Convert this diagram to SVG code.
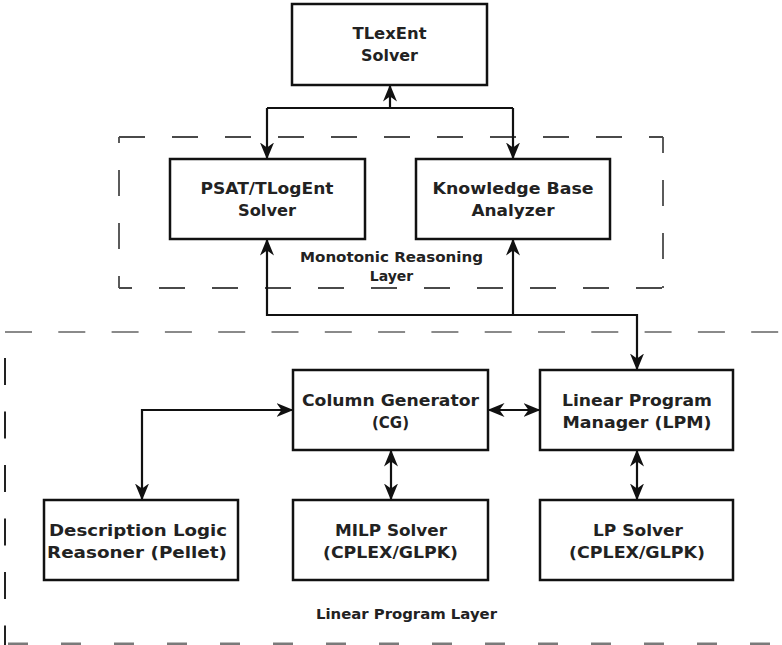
<svg xmlns="http://www.w3.org/2000/svg" width="782" height="645" viewBox="0 0 782 645">
  <style>
    .box { fill: #ffffff; stroke: #111111; stroke-width: 2.5; }
    .lbl { font-family: "DejaVu Sans", "Liberation Sans", sans-serif; font-weight: bold; font-size: 15px; fill: #222222; text-anchor: middle; }
    .cap { font-family: "DejaVu Sans", "Liberation Sans", sans-serif; font-weight: bold; font-size: 14px; fill: #222222; text-anchor: middle; }
    .wire { fill: none; stroke: #111111; stroke-width: 2.2; }
    .layer { fill: none; stroke: #4a4a4a; stroke-width: 1.8; stroke-dasharray: 26 27; }
    .sep { fill: none; stroke: #8a8a8a; stroke-width: 2; stroke-dasharray: 27 26.3; }
  </style>
  <defs>
    <marker id="arrow" viewBox="0 0 17 14" markerWidth="17" markerHeight="14" refX="16.5" refY="7" orient="auto-start-reverse" markerUnits="userSpaceOnUse">
      <path d="M0,0 L17,7 L0,14 L5,7 z" fill="#111111"/>
    </marker>
  </defs>
  <rect width="782" height="645" fill="#ffffff"/>

  <!-- layer outlines -->
  <g id="monotonic-layer">
    <line class="layer" x1="119" y1="137" x2="663" y2="137"/>
    <line class="layer" x1="663" y1="137" x2="663" y2="288" stroke-dashoffset="10"/>
    <line class="layer" x1="119" y1="137" x2="119" y2="288" stroke-dashoffset="20"/>
    <line class="layer" x1="119" y1="288" x2="663" y2="288" stroke-dashoffset="13"/>
    <text class="cap" x="391.5" y="262" textLength="183" lengthAdjust="spacingAndGlyphs">Monotonic Reasoning</text>
    <text class="cap" x="391.5" y="281">Layer</text>
  </g>
  <g id="linear-program-layer">
    <line class="sep" x1="5" y1="332" x2="782" y2="332"/>
    <line x1="5" y1="332" x2="5" y2="645" stroke="#222222" stroke-width="2" stroke-dasharray="27 26.5" stroke-dashoffset="27.5"/>
    <line x1="8" y1="644" x2="782" y2="644" stroke="#7a7a7a" stroke-width="3" stroke-dasharray="20 33"/>
    <text class="cap" x="406.5" y="619" textLength="181" lengthAdjust="spacingAndGlyphs">Linear Program Layer</text>
  </g>

  <!-- connectors -->
  <g id="connectors">
    <path class="wire" d="M390,108 V85" marker-end="url(#arrow)"/>
    <path class="wire" d="M267,108 H513"/>
    <path class="wire" d="M267,108 V159" marker-end="url(#arrow)"/>
    <path class="wire" d="M513,108 V159" marker-end="url(#arrow)"/>
    <path class="wire" d="M267,239 V315 H637 V370" marker-start="url(#arrow)" marker-end="url(#arrow)"/>
    <path class="wire" d="M513,315 V239" marker-end="url(#arrow)"/>
    <path class="wire" d="M488,410 H540" marker-start="url(#arrow)" marker-end="url(#arrow)"/>
    <path class="wire" d="M142,500 V410 H293" marker-start="url(#arrow)" marker-end="url(#arrow)"/>
    <path class="wire" d="M391,450 V500" marker-start="url(#arrow)" marker-end="url(#arrow)"/>
    <path class="wire" d="M637,450 V500" marker-start="url(#arrow)" marker-end="url(#arrow)"/>
  </g>

  <!-- nodes -->
  <g id="tlexent-solver">
    <rect class="box" x="292" y="4" width="195" height="81"/>
    <text class="lbl" x="389.5" y="39" textLength="74" lengthAdjust="spacingAndGlyphs">TLexEnt</text>
    <text class="lbl" x="389.5" y="61" textLength="57" lengthAdjust="spacingAndGlyphs">Solver</text>
  </g>
  <g id="psat-solver">
    <rect class="box" x="170" y="159" width="195" height="80"/>
    <text class="lbl" x="267" y="194" textLength="133" lengthAdjust="spacingAndGlyphs">PSAT/TLogEnt</text>
    <text class="lbl" x="267" y="216" textLength="58" lengthAdjust="spacingAndGlyphs">Solver</text>
  </g>
  <g id="kb-analyzer">
    <rect class="box" x="416" y="159" width="194" height="80"/>
    <text class="lbl" x="513" y="194" textLength="161" lengthAdjust="spacingAndGlyphs">Knowledge Base</text>
    <text class="lbl" x="513" y="216" textLength="83" lengthAdjust="spacingAndGlyphs">Analyzer</text>
  </g>
  <g id="column-generator">
    <rect class="box" x="293" y="370" width="195" height="80"/>
    <text class="lbl" x="390.5" y="406" textLength="177" lengthAdjust="spacingAndGlyphs">Column Generator</text>
    <text class="lbl" x="390.5" y="428">(CG)</text>
  </g>
  <g id="lp-manager">
    <rect class="box" x="540" y="370" width="193" height="80"/>
    <text class="lbl" x="637" y="406" textLength="150" lengthAdjust="spacingAndGlyphs">Linear Program</text>
    <text class="lbl" x="637" y="428" textLength="149" lengthAdjust="spacingAndGlyphs">Manager (LPM)</text>
  </g>
  <g id="dl-reasoner">
    <rect class="box" x="44" y="500" width="194" height="80"/>
    <text class="lbl" x="138" y="536" textLength="178" lengthAdjust="spacingAndGlyphs">Description Logic</text>
    <text class="lbl" x="137" y="558" textLength="180" lengthAdjust="spacingAndGlyphs">Reasoner (Pellet)</text>
  </g>
  <g id="milp-solver">
    <rect class="box" x="293" y="500" width="195" height="80"/>
    <text class="lbl" x="391" y="536" textLength="112" lengthAdjust="spacingAndGlyphs">MILP Solver</text>
    <text class="lbl" x="390.5" y="558" textLength="135" lengthAdjust="spacingAndGlyphs">(CPLEX/GLPK)</text>
  </g>
  <g id="lp-solver">
    <rect class="box" x="540" y="500" width="193" height="80"/>
    <text class="lbl" x="638" y="536" textLength="90" lengthAdjust="spacingAndGlyphs">LP Solver</text>
    <text class="lbl" x="637" y="558" textLength="136" lengthAdjust="spacingAndGlyphs">(CPLEX/GLPK)</text>
  </g>
</svg>
